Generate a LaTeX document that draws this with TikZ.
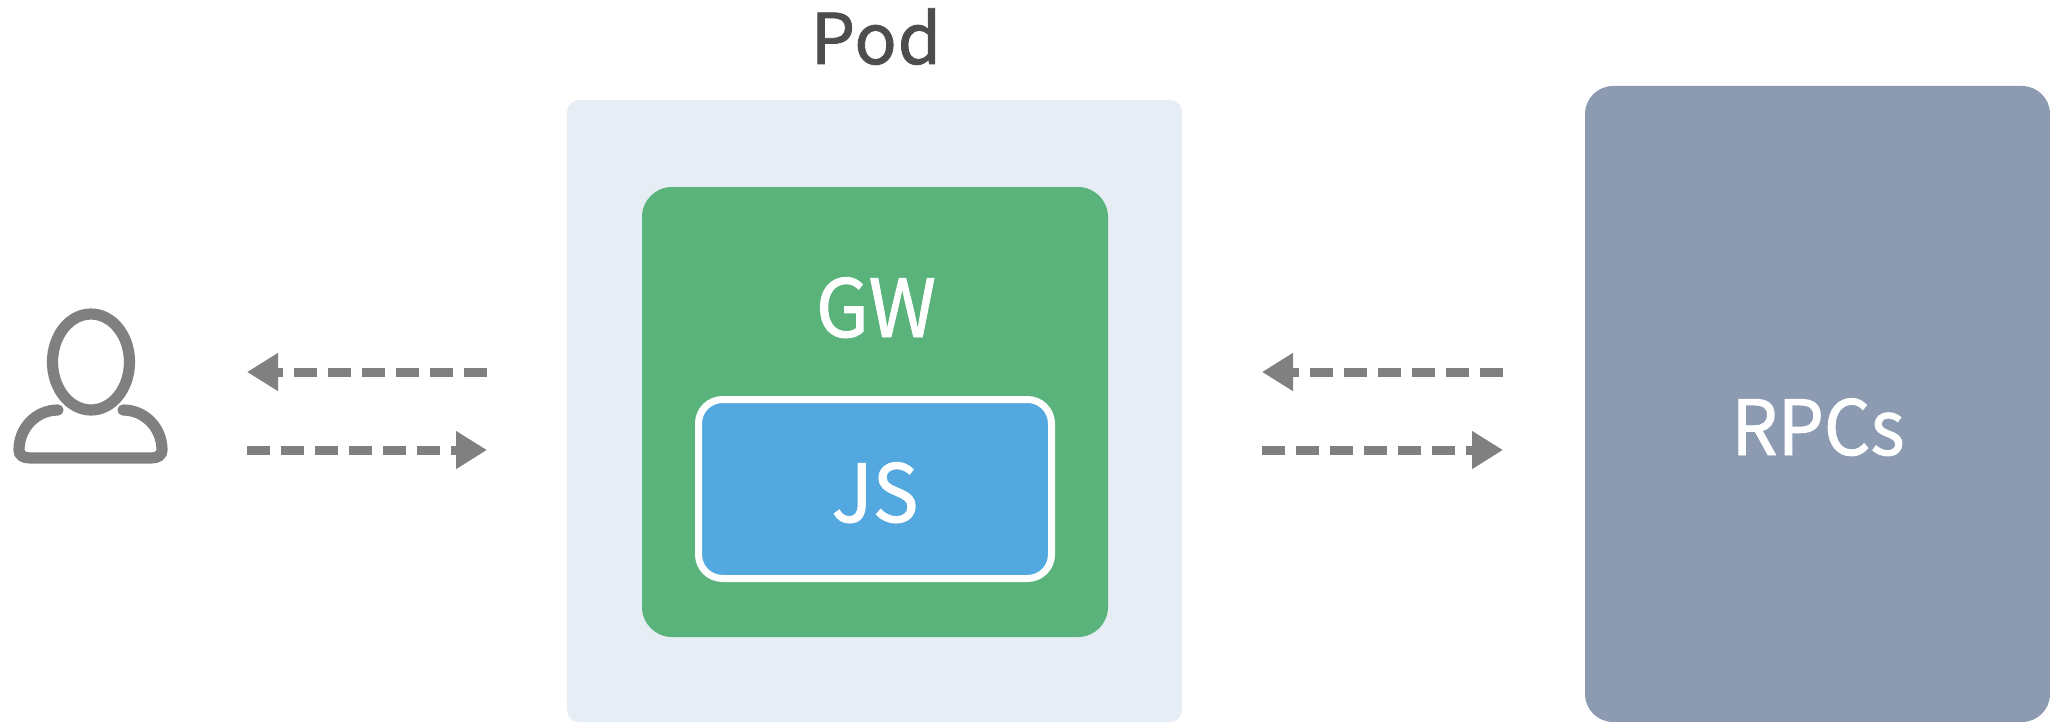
\documentclass[tikz,border=0pt]{standalone}
\usepackage{fontspec}
\setmainfont[FakeBold=1.2,LetterSpace=1.5]{Noto Sans CJK SC}
\newfontfamily\narrowfont[FakeBold=1.2,FakeStretch=0.96]{Noto Sans CJK SC}
\usetikzlibrary{arrows.meta}
\definecolor{podfill}{HTML}{E6EDF5}
\definecolor{gwfill}{HTML}{59B37B}
\definecolor{jsfill}{HTML}{53A9DF}
\definecolor{rpcfill}{HTML}{8D9BB2}
\definecolor{flowgray}{HTML}{808080}
\definecolor{podtext}{HTML}{4D4D4D}
\tikzset{
  box/.style={inner sep=0pt,outer sep=0pt},
  label/.style={anchor=base,text=white,inner sep=0pt,font=\narrowfont\fontsize{40}{44}\selectfont},
  flow/.style={flowgray,line width=4.5pt,dash pattern=on 11.5pt off 5.5pt,-{Triangle[length=15.5pt,width=18pt]}},
  usericon/.style={flowgray,line width=5.6pt,line cap=round}
}
\begin{document}
\begin{tikzpicture}[x=0.5pt,y=-0.5pt]
        \useasboundingbox (0,0) rectangle (2050,722);

        \node (P) [box,fill=podfill,rounded corners=6pt,minimum width=307.5pt,minimum height=311pt] at (874.5,411) {};
        \node (G) [box,fill=gwfill,rounded corners=15pt,minimum width=233pt,minimum height=225pt] at (875,412) {};
        \node (J) [box,fill=jsfill,draw=white,line width=3.5pt,rounded corners=12pt,minimum width=176.5pt,minimum height=89.5pt] at (875,489) {};
        \node (R) [box,fill=rpcfill,rounded corners=14pt,minimum width=232.5pt,minimum height=318pt] at (1817.5,404) {};

        \node (Plabel) [label,text=podtext,font=\fontsize{35}{40}\selectfont] at (876,64) {Pod};
        \node (Glabel) [label] at (876,337) {GW};
        \node (Jlabel) [label] at (875,522) {JS};
        \node (Rlabel) [label,font=\narrowfont\fontsize{38}{42}\selectfont] at (1818,455) {RPCs};

        \coordinate (U1) at (247,372);
        \coordinate (U2) at (487,372);
        \coordinate (U3) at (247,450);
        \coordinate (U4) at (487,450);
        \coordinate (R1) at (1262,372);
        \coordinate (R2) at (1503,372);
        \coordinate (R3) at (1262,450);
        \coordinate (R4) at (1503,450);

        \draw [flow] (U2) -- (U1);
        \draw [flow] (U3) -- (U4);
        \draw [flow] (R2) -- (R1);
        \draw [flow] (R3) -- (R4);

        \draw [usericon] (91,362) ellipse (38.5 and 48);
        \draw [usericon] (58,410) .. controls (36,410) and (19,428) .. (19,450)
          .. controls (19,455) and (23,458) .. (30,458) -- (151,458)
          .. controls (158,458) and (162,455) .. (162,450)
          .. controls (162,428) and (145,410) .. (123,410);
      \end{tikzpicture}
\end{document}
